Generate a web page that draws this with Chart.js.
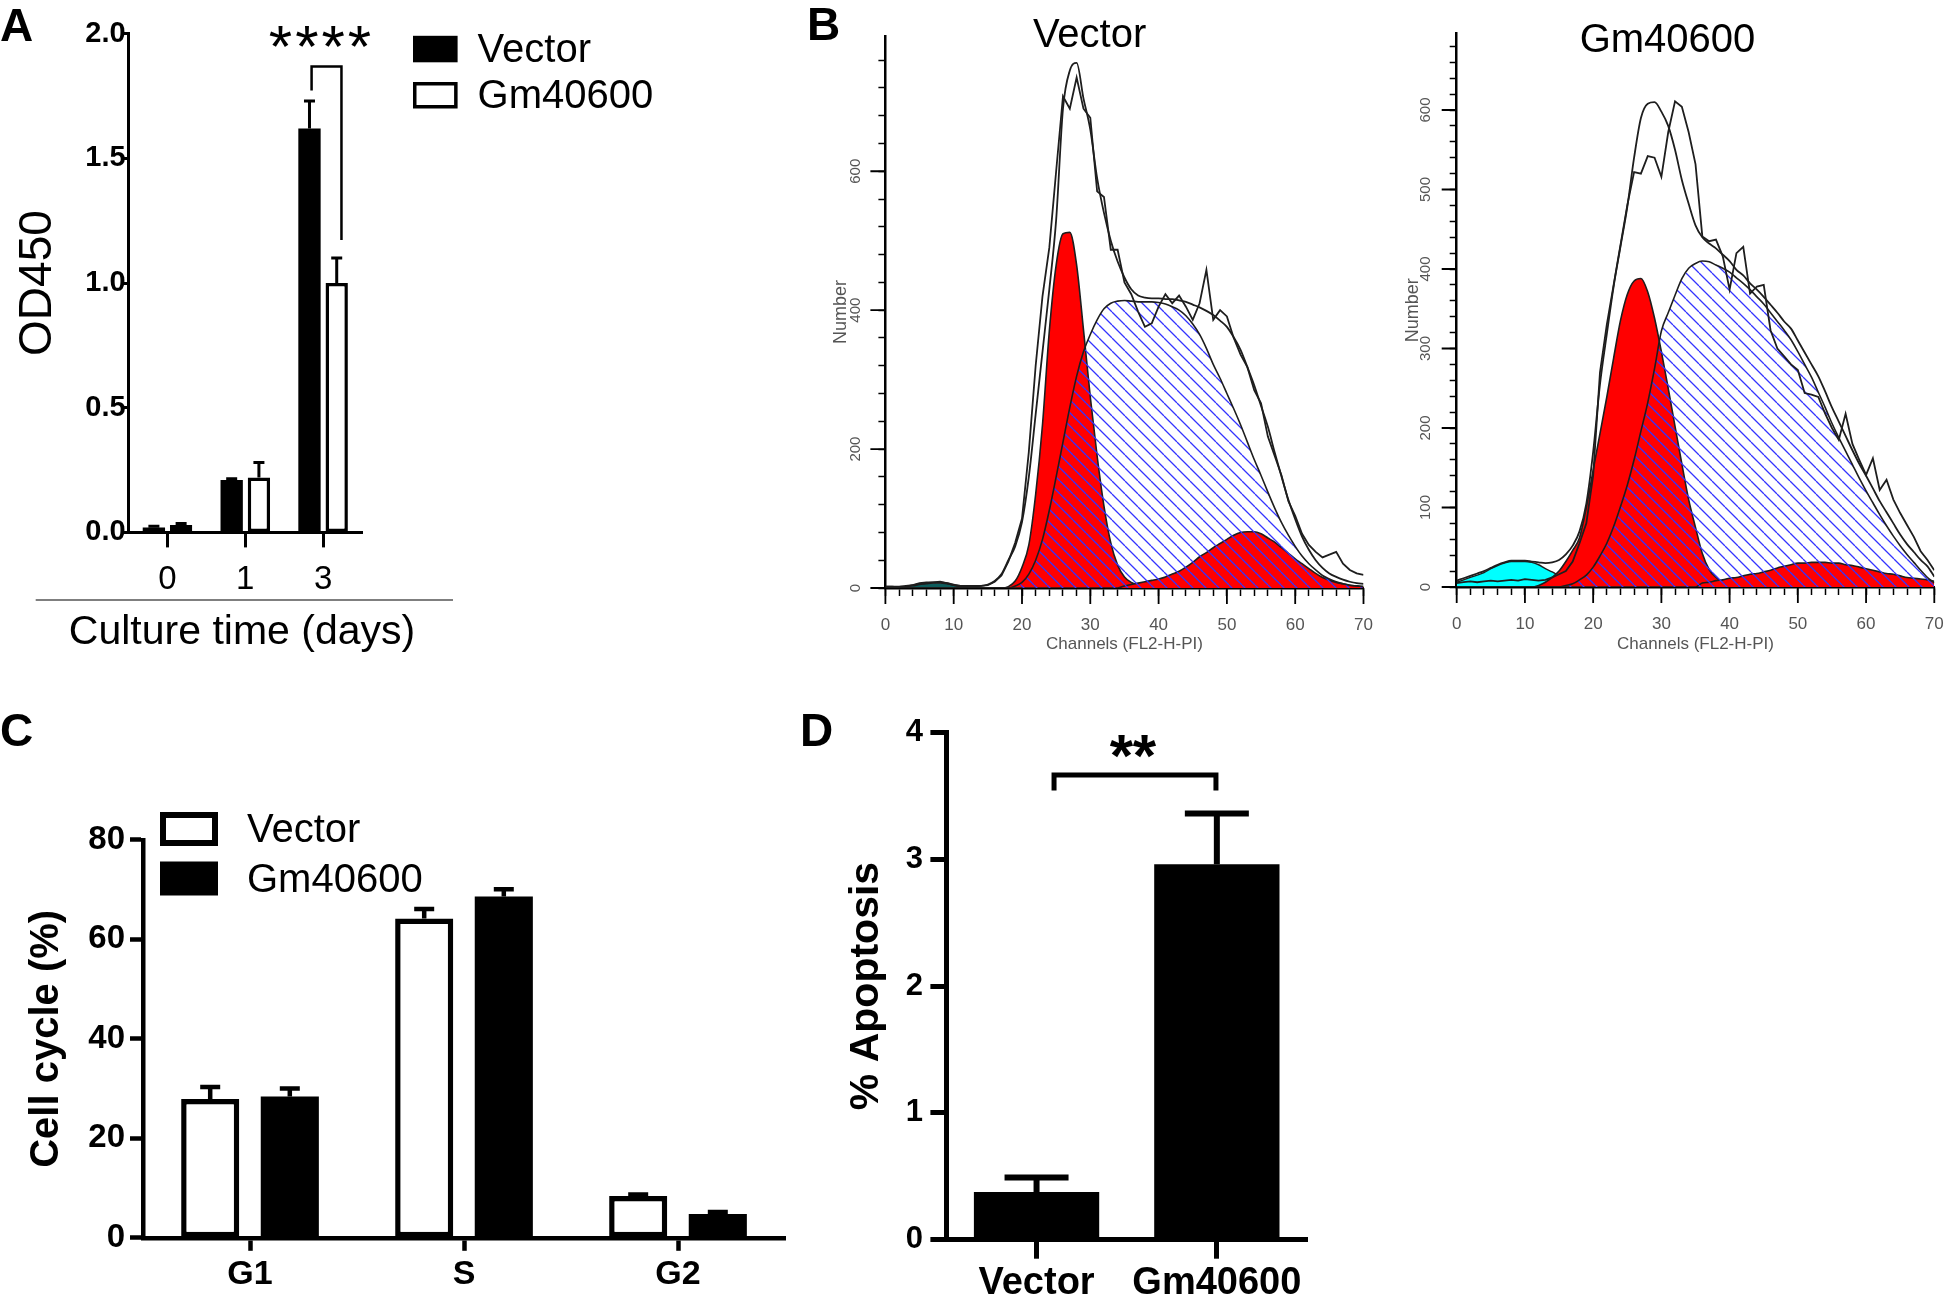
<!DOCTYPE html>
<html>
<head>
<meta charset="utf-8">
<title>Gm40600 figure</title>
<script src="https://cdn.jsdelivr.net/npm/chart.js@4.4.1/dist/chart.umd.min.js"></script>
<style>
  html, body { margin:0; padding:0; background:#fff; }
  body { width:1946px; height:1296px; position:relative; overflow:hidden; }
  canvas { position:absolute; display:block; }
</style>
</head>
<body>
<canvas id="cA" width="700" height="660" style="left:0;top:0;width:700px;height:660px"></canvas>
<canvas id="cBV" width="580" height="660" style="left:800px;top:0;width:580px;height:660px"></canvas>
<canvas id="cBG" width="546" height="660" style="left:1400px;top:0;width:546px;height:660px"></canvas>
<canvas id="cC" width="800" height="596" style="left:0;top:700px;width:800px;height:596px"></canvas>
<canvas id="cD" width="540" height="596" style="left:800px;top:700px;width:540px;height:596px"></canvas>
<script>
// ================= DATA =================
// Panel A : CCK-8 growth curve
const cultureDays = ['0', '1', '3'];
const odVector = [0.02, 0.21, 1.62];
const odVectorSem = [0.005, 0.005, 0.11];
const odGm40600 = [0.03, 0.22, 1.00];
const odGm40600Sem = [0.006, 0.06, 0.10];
const odTicks = [0, 0.5, 1.0, 1.5, 2.0];
const sigA = { text: '****', x0: 1.852, x1: 2.236, top: 1.868, end0: 1.772, end1: 1.173, tx: 1.96, ty: 1.987 };

// Panel B : flow cytometry DNA histograms (channel 0..70)
const channels = [0,1,2,3,4,5,6,7,8,9,10,11,12,13,14,15,16,17,18,19,20,21,22,23,24,25,26,27,28,29,30,31,32,33,34,35,36,37,38,39,40,41,42,43,44,45,46,47,48,49,50,51,52,53,54,55,56,57,58,59,60,61,62,63,64,65,66,67,68,69,70];
const chanMinor = [0,2,4,6,8,10,12,14,16,18,20,22,24,26,28,30,32,34,36,38,40,42,44,46,48,50,52,54,56,58,60,62,64,66,68,70];
const chanMajor = [0,10,20,30,40,50,60,70];
const vecMinorY = [0,40,80,120,160,200,240,280,320,360,400,440,480,520,560,600,640,680,720,760];
const vecMajorY = [0,200,400,600];
const gmMinorY = [0,20,40,60,80,100,120,140,160,180,200,220,240,260,280,300,320,340,360,380,400,420,440,460,480,500,520,540,560,580,600,620,640,660,680];
const gmMajorY = [0,100,200,300,400,500,600];

const vecDebris = [0,0,1,2,3,5,6,7,7,6, 4,2,1,0,0,0,0,0,0,0, 0,0,0,0,0,0,0,0,0,0, 0,0,0,0,0,0,0,0,0,0, 0,0,0,0,0,0,0,0,0,0, 0,0,0,0,0,0,0,0,0,0, 0,0,0,0,0,0,0,0,0,0,0];
const vecG1 = [0,0,0,0,0,0,0,0,0,0, 0,0,0,0,0,0,0,0,2,10, 30,62,135,235,370,465,510,512,465,372, 275,190,118,65,33,16,8,4,2,0, 0,0,0,0,0,0,0,0,0,0, 0,0,0,0,0,0,0,0,0,0, 0,0,0,0,0,0,0,0,0,0,0];
const vecS = [0,0,0,0,0,0,0,0,0,0, 0,0,0,0,0,0,0,0,0,3, 8,20,40,70,112,160,210,260,305,340, 365,386,402,410,413,414,413,412,412,412, 411,409,405,400,392,380,365,345,322,302, 280,258,235,210,185,162,138,115,94,76, 60,46,35,26,18,13,9,6,4,3,2];
const vecG2 = [0,0,0,0,0,0,0,0,0,0, 0,0,0,0,0,0,0,0,0,0, 0,0,0,0,0,0,0,0,0,0, 0,0,0,0,0,3,5,7,9,11, 13,16,20,24,30,37,45,51,58,64, 70,76,80,81,81,78,72,66,58,50, 42,35,28,21,15,11,8,6,4,3,2];
const vecFit = [2,2,2,3,4,6,7,8,8,7, 5,3,3,3,3,5,10,20,40,60, 95,160,250,340,430,530,690,745,756,705, 660,590,540,500,470,447,430,421,418,417, 417,416,416,414,412,408,404,399,393,385, 376,361,343,318,292,262,232,195,160,127, 99,74,55,40,29,21,16,12,9,7,6];
const vecRaw = [2,2,1,2,4,7,8,8,9,7, 4,3,2,2,3,4,9,18,38,65, 100,196,320,420,490,600,708,690,735,690, 677,571,563,487,487,440,423,398,376,381, 405,423,410,421,405,386,410,458,386,400, 391,360,336,318,285,266,218,190,162,125, 104,78,62,52,44,48,52,35,26,21,19];

const gmDebris = [6,9,12,15,18,23,27,30,32,32, 32,31,28,23,19,14,9,4,1,0, 0,0,0,0,0,0,0,0,0,0, 0,0,0,0,0,0,0,0,0,0, 0,0,0,0,0,0,0,0,0,0, 0,0,0,0,0,0,0,0,0,0, 0,0,0,0,0,0,0,0,0,0,0];
const gmG1 = [0,0,0,0,0,0,0,0,0,0, 0,0,2,6,12,20,32,46,62,100, 147,193,239,288,335,368,385,388,371,338, 296,250,202,155,110,75,42,22,12,6, 3,1,0,0,0,0,0,0,0,0, 0,0,0,0,0,0,0,0,0,0, 0,0,0,0,0,0,0,0,0,0,0];
const gmS = [0,0,0,0,0,0,0,0,0,0, 0,0,0,0,0,0,2,4,9,15, 25,39,55,76,101,128,160,196,232,275, 322,345,367,388,401,407,410,409,405,401, 396,389,382,374,365,356,345,334,323,311, 296,280,264,245,226,206,188,171,154,137, 121,106,91,77,64,52,41,31,21,12,5];
const gmG2 = [0,0,0,0,0,0,0,0,0,0, 0,0,0,0,0,0,0,0,0,0, 0,0,0,0,0,0,0,0,0,0, 0,0,0,0,0,0,5,6,8,9, 11,12,14,16,17,19,21,24,26,28, 30,30,31,31,31,30,30,28,27,25, 23,21,19,17,16,14,12,11,10,9,7];
const gmFit = [8,11,14,17,20,24,28,31,33,33, 33,32,31,30,31,34,41,52,70,105, 170,255,318,378,428,478,540,590,608,610, 598,580,550,512,482,455,440,432,426,418, 410,399,392,382,374,365,355,345,334,325, 310,295,280,265,246,226,208,190,172,155, 140,124,108,94,80,66,54,44,34,26,13];
const gmRaw = [5,6,7,6,7,8,7,8,9,8, 10,9,8,9,12,16,20,32,55,80, 140,270,330,380,430,480,522,520,542,540, 516,572,611,604,572,532,441,435,437,416, 374,420,428,369,378,380,323,300,290,280, 273,244,242,239,218,200,185,218,180,160, 141,162,122,135,110,93,78,63,45,34,21];

// Panel C : cell-cycle distribution
const phases = ['G1', 'S', 'G2'];
const ccVector = [27.9, 64.2, 8.4];
const ccVectorSem = [2.4, 1.9, 0.3];
const ccGm40600 = [28.4, 68.6, 4.8];
const ccGm40600Sem = [1.6, 1.5, 0.4];
const ccTicks = [0, 20, 40, 60, 80];

// Panel D : apoptosis
const groups = ['Vector', 'Gm40600'];
const apoptosis = [0.376, 2.96];
const apoptosisSem = [0.114, 0.40];
const apTicks = [0, 1, 2, 3, 4];
const sigD = { text: '**', x0: 0.097, x1: 0.995, top: 3.663, end0: 3.541, end1: 3.541, tx: 0.535, ty: 3.925 };

// ================= STYLE / HELPERS =================
const FONT = "'Liberation Sans', Arial, Helvetica, sans-serif";
Chart.defaults.font.family = FONT;
Chart.defaults.color = '#000';

const DECOR = {
  cA: {
    texts: [
      { t: 'A', x: 0, y: 41, font: 'bold 46px ' + FONT },
      { t: 'Culture time (days)', x: 242, y: 633, font: '41px ' + FONT, align: 'center', baseline: 'middle' }
    ],
    lines: [{ x0: 35.7, y0: 600, x1: 453, y1: 600, w: 1.3, c: '#555' }],
    legend: { x: 413, y: 35.8, w: 44.6, h: 26.5, dy: 46.2, lw: 3.5, tx: 477.6, tdy: 2, font: '40px ' + FONT },
    err: { lw: 3, cap: 11 },
    sig: { data: sigA, lw: 2.5, font: '60px ' + FONT, gap: 26.3, base: 30 }
  },
  cBV: {
    texts: [
      { t: 'B', x: 7, y: 40, font: 'bold 46px ' + FONT },
      { t: 'Vector', x: 289.6, y: 36, font: '40px ' + FONT, align: 'center', baseline: 'middle' }
    ],
    major: { x: chanMajor, y: vecMajorY, lenX: 16, lenY: 15, w: 1.8 }
  },
  cBG: {
    texts: [{ t: 'Gm40600', x: 267.5, y: 41, font: '40px ' + FONT, align: 'center', baseline: 'middle' }],
    major: { x: chanMajor, y: gmMajorY, lenX: 16, lenY: 15, w: 1.8 }
  },
  cC: {
    texts: [{ t: 'C', x: 0, y: 45.6, font: 'bold 46px ' + FONT }],
    legend: { x: 160, y: 112, w: 58, h: 34, dy: 49.5, lw: 6, tx: 247, tdy: 2, font: '40px ' + FONT },
    err: { lw: 4.5, cap: 20 }
  },
  cD: {
    texts: [{ t: 'D', x: 0, y: 45.6, font: 'bold 46px ' + FONT }],
    err: { lw: 6, cap: 64 },
    sig: { data: sigD, lw: 5, font: 'bold 60px ' + FONT, gap: 23, base: 34 }
  }
};

const decorPlugin = {
  id: 'decor',
  afterDraw(chart) {
    const d = DECOR[chart.canvas.id];
    if (!d) return;
    const ctx = chart.ctx, xs = chart.scales.x, ys = chart.scales.y;
    ctx.save();
    if (d.major) {
      ctx.strokeStyle = '#000'; ctx.lineWidth = d.major.w; ctx.beginPath();
      d.major.x.forEach(v => { const p = xs.getPixelForValue(v); ctx.moveTo(p, xs.top); ctx.lineTo(p, xs.top + d.major.lenX); });
      d.major.y.forEach(v => { const p = ys.getPixelForValue(v); ctx.moveTo(ys.right, p); ctx.lineTo(ys.right - d.major.lenY, p); });
      ctx.stroke();
    }
    if (d.err) {
      chart.data.datasets.forEach((ds, di) => {
        if (!ds.sem) return;
        chart.getDatasetMeta(di).data.forEach((bar, i) => {
          const yv = ys.getPixelForValue(ds.data[i]);
          const ye = ys.getPixelForValue(ds.data[i] + ds.sem[i]);
          ctx.strokeStyle = '#000'; ctx.lineWidth = d.err.lw; ctx.lineCap = 'butt';
          ctx.beginPath();
          ctx.moveTo(bar.x, yv); ctx.lineTo(bar.x, ye);
          ctx.moveTo(bar.x - d.err.cap / 2, ye); ctx.lineTo(bar.x + d.err.cap / 2, ye);
          ctx.stroke();
        });
      });
    }
    if (d.sig) {
      const s = d.sig.data;
      const x0 = xs.getPixelForValue(s.x0), x1 = xs.getPixelForValue(s.x1);
      const yt = ys.getPixelForValue(s.top), y0 = ys.getPixelForValue(s.end0), y1 = ys.getPixelForValue(s.end1);
      ctx.strokeStyle = '#000'; ctx.lineWidth = d.sig.lw; ctx.lineJoin = 'miter'; ctx.lineCap = 'butt';
      ctx.beginPath(); ctx.moveTo(x0, y0); ctx.lineTo(x0, yt); ctx.lineTo(x1, yt); ctx.lineTo(x1, y1); ctx.stroke();
      ctx.fillStyle = '#000'; ctx.font = d.sig.font; ctx.textAlign = 'center'; ctx.textBaseline = 'alphabetic';
      const cx = xs.getPixelForValue(s.tx), cy = ys.getPixelForValue(s.ty), n = s.text.length;
      for (let i = 0; i < n; i++) ctx.fillText(s.text[i], cx + (i - (n - 1) / 2) * d.sig.gap, cy + d.sig.base);
    }
    if (d.legend) {
      const L = d.legend;
      chart.data.datasets.forEach((ds, k) => {
        const y = L.y + k * L.dy;
        ctx.fillStyle = ds.backgroundColor; ctx.fillRect(L.x, y, L.w, L.h);
        if (ds.borderWidth) {
          ctx.strokeStyle = ds.borderColor; ctx.lineWidth = L.lw;
          ctx.strokeRect(L.x + L.lw / 2, y + L.lw / 2, L.w - L.lw, L.h - L.lw);
        }
        ctx.fillStyle = '#000'; ctx.font = L.font; ctx.textAlign = 'left'; ctx.textBaseline = 'middle';
        ctx.fillText(ds.label, L.tx, y + L.h / 2 + L.tdy);
      });
    }
    (d.lines || []).forEach(l => {
      ctx.strokeStyle = l.c; ctx.lineWidth = l.w; ctx.beginPath(); ctx.moveTo(l.x0, l.y0); ctx.lineTo(l.x1, l.y1); ctx.stroke();
    });
    (d.texts || []).forEach(t => {
      ctx.fillStyle = t.color || '#000'; ctx.font = t.font;
      ctx.textAlign = t.align || 'left'; ctx.textBaseline = t.baseline || 'alphabetic';
      ctx.fillText(t.t, t.x, t.y);
    });
    ctx.restore();
  }
};
Chart.register(decorPlugin);

const base = { responsive: false, animation: false, devicePixelRatio: 1, events: [] };
const noPlug = { legend: { display: false }, tooltip: { enabled: false } };
function fixX(h) { return s => { s.height = h; s.paddingLeft = 0; s.paddingRight = 0; }; }
function fixY(w) { return s => { s.width = w; s.paddingTop = 0; s.paddingBottom = 0; }; }
function setTicks(arr) { return s => { s.ticks = arr.map(v => ({ value: v })); }; }

// ================= PANEL A =================
new Chart(document.getElementById('cA'), {
  type: 'bar',
  data: {
    labels: cultureDays,
    datasets: [
      { label: 'Vector', data: odVector, sem: odVectorSem, backgroundColor: '#000', borderColor: '#000', borderWidth: 0 },
      { label: 'Gm40600', data: odGm40600, sem: odGm40600Sem, backgroundColor: '#fff', borderColor: '#000', borderWidth: 3.5, borderSkipped: false }
    ]
  },
  options: Object.assign({}, base, {
    categoryPercentage: 0.70, barPercentage: 0.82,
    layout: { padding: { left: 0, top: 33.7, right: 338, bottom: 0 } },
    plugins: noPlug,
    scales: {
      x: {
        z: 1, afterFit: fixX(660 - 532.4),
        grid: { offset: false, drawOnChartArea: false, tickLength: 15, tickWidth: 3, tickColor: '#000' },
        border: { width: 3, color: '#000' },
        ticks: { color: '#000', font: { size: 33 }, padding: 13 }
      },
      y: {
        z: 1, min: 0, max: 2, afterFit: fixY(128.6), afterBuildTicks: setTicks(odTicks),
        grid: { drawOnChartArea: false, tickLength: 6, tickWidth: 3, tickColor: '#000' },
        border: { width: 3, color: '#000' },
        ticks: { color: '#000', font: { size: 29, weight: 'bold' }, padding: -3, callback: v => Number(v).toFixed(1) },
        title: { display: true, text: 'OD450', color: '#000', font: { size: 46 }, padding: { top: 11, bottom: 0 } }
      }
    }
  })
});

// ================= PANEL B =================
const hatchTile = (() => {
  const s = 13, c = document.createElement('canvas'); c.width = s; c.height = s;
  const g = c.getContext('2d'); g.strokeStyle = '#3434ff'; g.lineWidth = 1.3; g.beginPath();
  for (const k of [-1, 0, 1]) { g.moveTo(k * s, 0); g.lineTo(k * s + s, s); }
  g.stroke(); return c;
})();

function flowChart(id, raw, fit, S, G2, G1, debris, debrisColor, cfg) {
  const el = document.getElementById(id);
  const pat = el.getContext('2d').createPattern(hatchTile, 'repeat');
  const line = { pointRadius: 0, borderColor: '#1e1e1e', borderWidth: 1.8, cubicInterpolationMode: 'monotone' };
  return new Chart(el, {
    type: 'line',
    data: {
      labels: channels,
      datasets: [
        Object.assign({}, line, { label: 'Data', data: raw, fill: false, cubicInterpolationMode: 'default', tension: 0 }),
        Object.assign({}, line, { label: 'Fit', data: fit, fill: false }),
        Object.assign({}, line, { label: 'S', data: S, fill: 'origin', backgroundColor: pat, borderWidth: 1.6 }),
        Object.assign({}, line, { label: 'G2', data: G2, fill: 'origin', backgroundColor: '#ff0000', borderWidth: 1.6 }),
        Object.assign({}, line, { label: 'G1', data: G1, fill: 'origin', backgroundColor: '#ff0000', borderWidth: 1.6 }),
        Object.assign({}, line, { label: 'Debris', data: debris, fill: 'origin', backgroundColor: debrisColor, borderWidth: 1.4 })
      ]
    },
    options: Object.assign({}, base, {
      layout: { padding: { left: 0, top: cfg.top, right: cfg.right, bottom: 0 } },
      plugins: noPlug,
      scales: {
        x: {
          type: 'linear', min: 0, max: 70, z: 1,
          afterBuildTicks: setTicks(chanMinor), afterFit: fixX(cfg.xh),
          ticks: { autoSkip: false, maxRotation: 0, minRotation: 0, padding: 18.8, color: '#555', font: { size: 17 },
                   callback: v => chanMajor.includes(v) ? String(v) : '' },
          grid: { drawOnChartArea: false, tickLength: 8, tickWidth: 1.5, tickColor: '#000' },
          border: { width: 2.5, color: '#000' },
          title: { display: true, text: 'Channels (FL2-H-PI)', color: '#555', font: { size: 17 }, padding: { top: 0, bottom: 5.8 } }
        },
        y: {
          type: 'linear', min: 0, max: cfg.ymax, z: 1,
          afterBuildTicks: setTicks(cfg.minorY), afterFit: fixY(cfg.yw),
          ticks: { autoSkip: false, minRotation: 90, maxRotation: 90, crossAlign: 'center', padding: cfg.ytp, color: '#555', font: { size: 15 },
                   callback: v => cfg.majorY.includes(v) ? String(v) : '' },
          grid: { drawOnChartArea: false, tickLength: 7, tickWidth: 1.5, tickColor: '#000' },
          border: { width: 2.5, color: '#000' },
          title: { display: true, text: 'Number', color: '#555', font: { size: 18 }, padding: { top: cfg.ttp, bottom: 0 } }
        }
      }
    })
  });
}

flowChart('cBV', vecRaw, vecFit, vecS, vecG2, vecG1, vecDebris, '#0d5c5c',
  { top: 35.8, right: 16.5, xh: 660 - 588, yw: 85.4, ymax: 795, minorY: vecMinorY, majorY: vecMajorY, ytp: 10.2, ttp: 30.6 });
flowChart('cBG', gmRaw, gmFit, gmS, gmG2, gmG1, gmDebris, '#00ffff',
  { top: 33.7, right: 11.7, xh: 660 - 587, yw: 56.7, ymax: 696, minorY: gmMinorY, majorY: gmMajorY, ytp: 11.7, ttp: 2.2 });

// ================= PANEL C =================
new Chart(document.getElementById('cC'), {
  type: 'bar',
  data: {
    labels: phases,
    datasets: [
      { label: 'Vector', data: ccVector, sem: ccVectorSem, backgroundColor: '#fff', borderColor: '#000', borderWidth: 5.5, borderSkipped: false },
      { label: 'Gm40600', data: ccGm40600, sem: ccGm40600Sem, backgroundColor: '#000', borderColor: '#000', borderWidth: 0 }
    ]
  },
  options: Object.assign({}, base, {
    categoryPercentage: 0.744, barPercentage: 0.73,
    layout: { padding: { left: 0, top: 139.9, right: 15, bottom: 0 } },
    plugins: noPlug,
    scales: {
      x: {
        z: 1, afterFit: fixX(596 - 537.8),
        grid: { offset: false, drawOnChartArea: false, tickLength: 13, tickWidth: 4.5, tickColor: '#000' },
        border: { width: 4.5, color: '#000' },
        ticks: { color: '#000', font: { size: 34, weight: 'bold' }, padding: 3 }
      },
      y: {
        z: 1, min: 0, max: 80, afterFit: fixY(143), afterBuildTicks: setTicks(ccTicks),
        grid: { drawOnChartArea: false, tickLength: 13, tickWidth: 4.5, tickColor: '#000' },
        border: { width: 4.5, color: '#000' },
        ticks: { color: '#000', font: { size: 33, weight: 'bold' }, padding: 5 },
        title: { display: true, text: 'Cell cycle (%)', color: '#000', font: { size: 40, weight: 'bold' }, padding: { top: 23, bottom: 0 } }
      }
    }
  })
});

// ================= PANEL D =================
new Chart(document.getElementById('cD'), {
  type: 'bar',
  data: {
    labels: groups,
    datasets: [
      { label: '% Apoptosis', data: apoptosis, sem: apoptosisSem, backgroundColor: '#000', borderColor: '#000', borderWidth: 0 }
    ]
  },
  options: Object.assign({}, base, {
    categoryPercentage: 1.0, barPercentage: 0.695,
    layout: { padding: { left: 0, top: 32.3, right: 33, bottom: 0 } },
    plugins: noPlug,
    scales: {
      x: {
        z: 1, afterFit: fixX(596 - 539.7),
        grid: { offset: false, drawOnChartArea: false, tickLength: 19, tickWidth: 5, tickColor: '#000' },
        border: { width: 5, color: '#000' },
        ticks: { color: '#000', font: { size: 38, weight: 'bold' }, padding: 2 }
      },
      y: {
        z: 1, min: 0, max: 4, afterFit: fixY(146.4), afterBuildTicks: setTicks(apTicks),
        grid: { drawOnChartArea: false, tickLength: 16, tickWidth: 5, tickColor: '#000' },
        border: { width: 5, color: '#000' },
        ticks: { color: '#000', font: { size: 31, weight: 'bold' }, padding: 7.4 },
        title: { display: true, text: '% Apoptosis', color: '#000', font: { size: 41, weight: 'bold' }, padding: { top: 42.4, bottom: 0 } }
      }
    }
  })
});
</script>
</body>
</html>
